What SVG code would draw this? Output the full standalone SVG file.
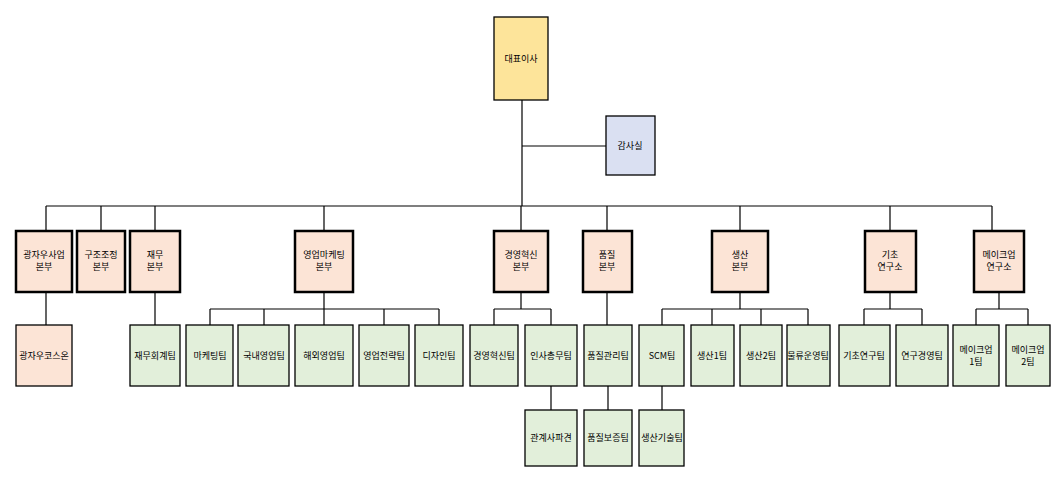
<svg xmlns="http://www.w3.org/2000/svg" width="1060" height="483" viewBox="0 0 1060 483">
<style>
g rect{stroke:#000;stroke-width:1.3}
.ceo{fill:#fde49a}.aud{fill:#dae0f2}
.div{fill:#fce4d6;stroke-width:2.5}
.pk{fill:#fce4d6}.gr{fill:#e2efda}
text{font-family:"Noto Sans CJK KR","Liberation Serif",serif;font-size:9px;text-anchor:middle;fill:#000}
.c path{stroke:#000;stroke-width:1.2;fill:none}
</style>
<rect width="1060" height="483" fill="#fff"/>
<g class="c">
<path d="M522 100V206M522 146H606M46 206H992M46 206V231M101 206V231M155 206V231M324 206V231M521 206V231M607 206V231M740 206V231M890 206V231M992 206V231"/>
<path d="M46 292V325M155 292V325M324 292V309M210 309H439M210 309V325M264 309V325M324 309V325M384 309V325M439 309V325"/>
<path d="M521 292V309M494 309H551M494 309V325M551 309V325M607 292V325M740 292V309M662 309H808M662 309V325M712 309V325M761 309V325M808 309V325M890 292V309M864 309H922M864 309V325M922 309V325M999 292V309M976 309H1028M976 309V325M1028 309V325"/>
<path d="M551 386V410M608 386V410M662 386V410"/>
</g>
<g id="ceo"><rect class="ceo" x="494" y="17" width="54" height="83"/><text x="521" y="62">대표이사</text></g>
<g id="audit"><rect class="aud" x="606" y="116" width="49" height="59"/><text x="630" y="149">감사실</text></g>
<g id="d1"><rect class="div" x="16" y="231" width="56" height="61"/><text x="44" y="258">광자우사업</text><text x="44" y="270">본부</text></g>
<g id="d2"><rect class="div" x="77" y="231" width="48" height="61"/><text x="101" y="258">구조조정</text><text x="101" y="270">본부</text></g>
<g id="d3"><rect class="div" x="130" y="231" width="50" height="61"/><text x="155" y="258">재무</text><text x="155" y="270">본부</text></g>
<g id="d4"><rect class="div" x="295" y="231" width="58" height="61"/><text x="324" y="258">영업마케팅</text><text x="324" y="270">본부</text></g>
<g id="d5"><rect class="div" x="494" y="231" width="54" height="61"/><text x="521" y="258">경영혁신</text><text x="521" y="270">본부</text></g>
<g id="d6"><rect class="div" x="583" y="231" width="49" height="61"/><text x="607" y="258">품질</text><text x="607" y="270">본부</text></g>
<g id="d7"><rect class="div" x="712" y="231" width="56" height="61"/><text x="740" y="258">생산</text><text x="740" y="270">본부</text></g>
<g id="d8"><rect class="div" x="865" y="231" width="51" height="61"/><text x="890" y="258">기초</text><text x="890" y="270">연구소</text></g>
<g id="d9"><rect class="div" x="974" y="231" width="50" height="61"/><text x="999" y="258">메이크업</text><text x="999" y="270">연구소</text></g>
<g id="t1"><rect class="pk" x="16" y="325" width="56" height="61"/><text x="44" y="359">광자우코스온</text></g>
<g id="t2"><rect class="gr" x="130" y="325" width="50" height="61"/><text x="155" y="359">재무회계팀</text></g>
<g id="t3"><rect class="gr" x="186" y="325" width="47" height="61"/><text x="210" y="359">마케팅팀</text></g>
<g id="t4"><rect class="gr" x="238" y="325" width="51" height="61"/><text x="264" y="359">국내영업팀</text></g>
<g id="t5"><rect class="gr" x="295" y="325" width="58" height="61"/><text x="324" y="359">해외영업팀</text></g>
<g id="t6"><rect class="gr" x="359" y="325" width="50" height="61"/><text x="384" y="359">영업전략팀</text></g>
<g id="t7"><rect class="gr" x="415" y="325" width="48" height="61"/><text x="439" y="359">디자인팀</text></g>
<g id="t8"><rect class="gr" x="470" y="325" width="48" height="61"/><text x="494" y="359">경영혁신팀</text></g>
<g id="t9"><rect class="gr" x="525" y="325" width="52" height="61"/><text x="551" y="359">인사총무팀</text></g>
<g id="t10"><rect class="gr" x="584" y="325" width="48" height="61"/><text x="608" y="359">품질관리팀</text></g>
<g id="t11"><rect class="gr" x="639" y="325" width="45" height="61"/><text x="662" y="359">SCM팀</text></g>
<g id="t12"><rect class="gr" x="691" y="325" width="43" height="61"/><text x="712" y="359">생산1팀</text></g>
<g id="t13"><rect class="gr" x="740" y="325" width="42" height="61"/><text x="761" y="359">생산2팀</text></g>
<g id="t14"><rect class="gr" x="787" y="325" width="43" height="61"/><text x="808" y="359">물류운영팀</text></g>
<g id="t15"><rect class="gr" x="839" y="325" width="51" height="61"/><text x="864" y="359">기초연구팀</text></g>
<g id="t16"><rect class="gr" x="896" y="325" width="52" height="61"/><text x="922" y="359">연구경영팀</text></g>
<g id="t17"><rect class="gr" x="953" y="325" width="46" height="61"/><text x="976" y="353">메이크업</text><text x="976" y="365">1팀</text></g>
<g id="t18"><rect class="gr" x="1006" y="325" width="44" height="61"/><text x="1028" y="353">메이크업</text><text x="1028" y="365">2팀</text></g>
<g id="t19"><rect class="gr" x="525" y="410" width="52" height="56"/><text x="551" y="441">관계사파견</text></g>
<g id="t20"><rect class="gr" x="584" y="410" width="48" height="56"/><text x="608" y="441">품질보증팀</text></g>
<g id="t21"><rect class="gr" x="639" y="410" width="45" height="56"/><text x="662" y="441">생산기술팀</text></g>
</svg>
